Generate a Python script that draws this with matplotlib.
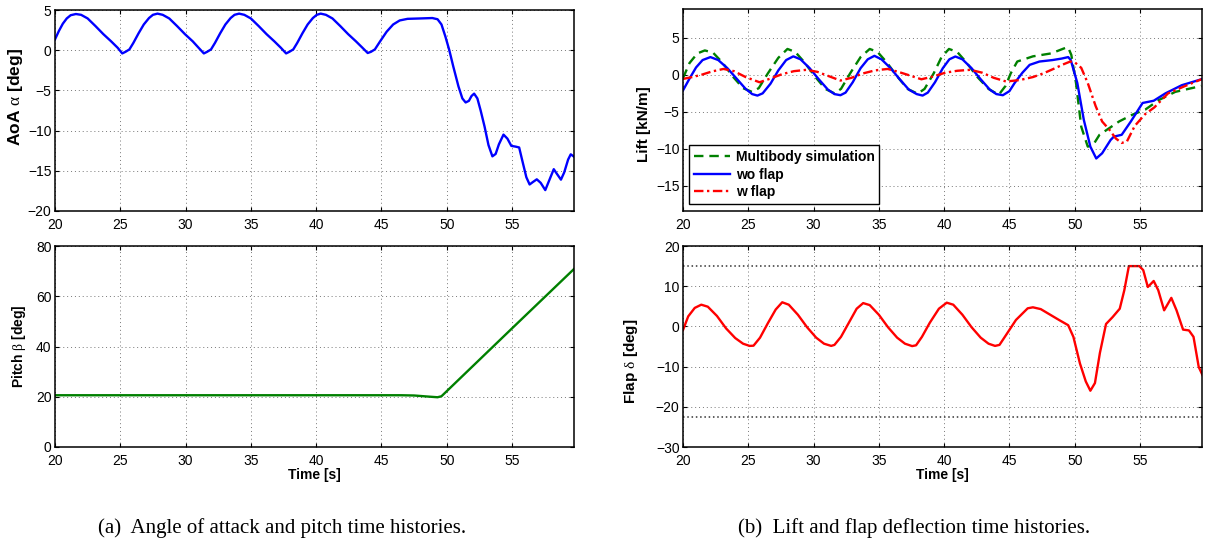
import matplotlib
matplotlib.use("Agg")
import matplotlib.pyplot as plt

plt.rcParams["font.family"] = ["Liberation Sans", "DejaVu Sans"]
plt.rcParams["mathtext.fontset"] = "custom"
plt.rcParams["mathtext.rm"] = "Liberation Serif"
plt.rcParams["mathtext.default"] = "rm"

# ---- angle of attack (top left)
aoa_t = [20.0, 20.3, 20.6, 20.9, 21.2, 21.6, 22.0, 22.5, 23.1, 23.7, 24.3, 24.8, 25.15, 25.4, 25.7,
         26.0, 26.4, 26.8, 27.2, 27.5, 27.85,
         28.25, 28.75, 29.35, 29.95, 30.55, 31.0, 31.4, 31.65, 31.95, 32.25, 32.65, 33.05, 33.45, 33.75, 34.1,
         34.5, 35.0, 35.6, 36.2, 36.8, 37.3, 37.7, 37.95, 38.25, 38.55, 38.95, 39.35, 39.75, 40.05, 40.35,
         40.75, 41.25, 41.85, 42.45, 43.05, 43.55, 43.95, 44.2, 44.5, 44.9, 45.4, 45.9, 46.4, 47.0, 48.0,
         48.9, 49.3, 49.6, 49.9, 50.2, 50.5, 50.9, 51.2, 51.45, 51.7, 51.9, 52.1, 52.35, 52.6, 52.9, 53.2,
         53.5, 53.75, 54.0, 54.35, 54.65, 54.95, 55.3, 55.55, 55.8, 56.1, 56.35, 56.6, 56.9, 57.2, 57.55,
         57.85, 58.2, 58.45, 58.75, 59.0, 59.3, 59.5, 59.8]
aoa = [1.35, 2.4, 3.3, 3.95, 4.35, 4.5, 4.4, 3.95, 3.0, 2.0, 1.1, 0.3, -0.4, -0.2, 0.1,
       0.9, 2.1, 3.2, 4.0, 4.4, 4.55,
       4.4, 3.95, 3.0, 2.0, 1.1, 0.3, -0.4, -0.2, 0.1, 0.9, 2.1, 3.2, 4.0, 4.4, 4.55,
       4.4, 3.95, 3.0, 2.0, 1.1, 0.3, -0.4, -0.2, 0.1, 0.9, 2.1, 3.2, 4.0, 4.4, 4.55,
       4.4, 3.95, 3.0, 2.0, 1.1, 0.3, -0.35, -0.2, 0.1, 1.1, 2.3, 3.2, 3.7, 3.9, 3.95,
       4.0, 3.85, 3.2, 1.7, 0.0, -2.0, -4.5, -6.0, -6.5, -6.3, -5.7, -5.4, -6.0, -7.5, -9.5, -11.8,
       -13.2, -12.9, -11.7, -10.5, -11.0, -11.9, -12.0, -12.1, -13.8, -15.8, -16.7, -16.4, -16.06, -16.5, -17.4,
       -16.2, -14.8, -15.4, -16.1, -15.2, -13.6, -12.95, -13.3]

# ---- pitch (bottom left)
pitch_t = [20.0, 30.0, 40.0, 46.5, 47.5, 48.5, 49.3, 49.6, 55.0, 59.8]
pitch = [20.6, 20.6, 20.6, 20.6, 20.5, 20.1, 19.8, 20.2, 47.2, 71.1]

# ---- lift (top right)
wo_t = [20.0, 20.5, 21.0, 21.5, 22.1, 22.7, 23.4, 24.1, 24.8, 25.3, 25.7, 26.1, 26.7, 27.3, 27.9,
        28.45, 29.0, 29.7, 30.4, 31.1, 31.6, 32.06, 32.45, 33.0, 33.6, 34.15, 34.66,
        35.2, 35.9, 36.6, 37.3, 37.9, 38.35, 38.75, 39.3, 39.9, 40.4, 40.86,
        41.4, 42.1, 42.8, 43.5, 44.0, 44.5, 45.0, 45.4, 46.0, 46.55, 47.3, 48.3, 49.0, 49.5, 49.7,
        50.2, 50.7, 51.2, 51.65, 52.1, 52.75, 53.0, 53.6, 54.3, 55.2, 56.05, 56.95, 58.2, 59.7]
wo = [-2.1, -0.5, 1.0, 2.0, 2.4, 2.0, 0.9, -0.5, -1.9, -2.6, -2.8, -2.5, -1.2, 0.6, 2.0,
      2.5, 2.1, 0.9, -0.6, -2.0, -2.6, -2.75, -2.4, -1.0, 0.9, 2.1, 2.57,
      2.1, 0.9, -0.6, -2.0, -2.6, -2.8, -2.4, -1.0, 0.9, 2.1, 2.48,
      2.1, 0.9, -0.6, -2.0, -2.6, -2.75, -2.2, -1.1, 0.3, 1.35, 1.8, 2.0, 2.2, 2.4, 2.0,
      -1.1, -6.1, -9.7, -11.3, -10.6, -8.8, -8.35, -8.1, -6.3, -3.8, -3.5, -2.5, -1.4, -0.6]

mb_t = [20.0, 20.5, 21.1, 21.67, 22.3, 23.0, 23.8, 24.6, 25.28, 25.8, 26.5, 27.3, 28.0,
        28.6, 29.3, 30.1, 30.9, 31.6, 32.1, 32.8, 33.6, 34.3,
        34.9, 35.6, 36.4, 37.2, 37.97, 38.5, 39.2, 39.8, 40.37,
        41.0, 41.7, 42.5, 43.4, 44.18, 44.7, 45.1, 45.6, 46.8, 48.2, 49.37, 49.5, 49.74,
        50.1, 50.5, 51.0, 51.4, 51.9, 52.65, 53.4, 54.4, 55.4, 56.45, 57.7, 59.7]
mb = [-0.45, 1.6, 2.9, 3.3, 3.0, 1.7, -0.2, -1.8, -2.3, -1.8, 0.2, 2.3, 3.5,
      3.1, 1.7, -0.2, -1.9, -2.5, -1.9, 0.2, 2.4, 3.5,
      3.1, 1.7, -0.2, -1.9, -2.55, -1.9, 0.2, 2.4, 3.5,
      3.1, 1.7, -0.2, -1.9, -2.7, -1.5, 0.2, 1.8, 2.5, 2.9, 3.7, 3.7, 2.7,
      -1.1, -7.0, -9.7, -9.5, -8.1, -7.2, -6.3, -5.4, -4.7, -3.4, -2.3, -1.5]

wf_t = [20.0, 20.7, 21.4, 22.2, 23.1, 23.9, 24.8, 25.86, 26.7, 27.6, 28.5, 29.46,
        30.3, 31.2, 32.06, 32.9, 33.8, 34.7, 35.67, 36.5, 37.4, 38.26, 39.2, 40.1, 41.0, 42.0,
        42.9, 43.8, 44.75, 45.8, 46.8, 47.6, 48.5, 49.1, 49.66, 50.0, 50.5, 51.0, 51.6, 52.1,
        52.65, 53.15, 53.6, 54.0, 54.6, 55.4, 56.1, 57.15, 58.4, 59.7]
wf = [-0.55, -0.3, 0.0, 0.45, 0.8, 0.5, -0.3, -1.0, -0.5, 0.1, 0.5, 0.68,
      0.4, -0.2, -0.77, -0.4, 0.2, 0.6, 0.8, 0.4, -0.1, -0.6, -0.2, 0.3, 0.55, 0.68,
      0.3, -0.4, -0.9, -0.7, -0.3, 0.2, 0.9, 1.4, 1.8, 1.7, 0.95, -1.1, -4.2, -6.3,
      -7.4, -8.6, -9.2, -9.0, -6.9, -5.3, -4.4, -2.5, -1.55, -0.6]

# ---- flap deflection (bottom right)
flap_t = [20.0, 20.4, 20.9, 21.4, 21.9, 22.6, 23.3, 24.0, 24.6, 25.1, 25.4, 25.9, 26.5, 27.1, 27.6,
          28.1, 28.8, 29.5, 30.2, 30.8, 31.35, 31.6, 32.1, 32.7, 33.3, 33.8,
          34.3, 35.0, 35.7, 36.4, 37.0, 37.55, 37.85, 38.3, 38.9, 39.6, 40.2,
          40.7, 41.4, 42.1, 42.8, 43.4, 43.9, 44.24, 44.75, 45.5, 46.4, 46.8, 47.4, 48.8, 49.5,
          49.9, 50.4, 50.85, 51.2, 51.55, 51.93, 52.4, 52.9, 53.45, 53.8, 54.15, 54.95, 55.25, 55.6,
          56.05, 56.4, 56.85, 57.4, 57.8, 58.3, 58.75, 59.1, 59.5, 59.8]
flap = [-0.9, 2.5, 4.6, 5.4, 4.9, 2.6, -0.5, -2.9, -4.3, -4.85, -4.8, -2.8, 0.8, 4.2, 6.0,
        5.4, 2.9, -0.2, -2.8, -4.3, -4.85, -4.6, -2.6, 0.9, 4.4, 5.8,
        5.3, 2.9, -0.2, -2.8, -4.3, -4.9, -4.7, -2.6, 0.9, 4.4, 5.9,
        5.4, 2.9, -0.2, -2.8, -4.3, -4.85, -4.6, -2.1, 1.6, 4.5, 4.75, 4.3, 1.6, 0.3,
        -2.6, -9.2, -13.7, -16.0, -14.1, -6.6, 0.6, 2.3, 4.4, 9.0, 15.0, 15.0, 14.0, 9.8,
        11.3, 9.0, 4.0, 7.1, 4.0, -0.8, -1.0, -2.6, -10.1, -12.2]
flap_limits = [15.0, -22.5]

xticks = [20, 25, 30, 35, 40, 45, 50, 55]

W, H = 1209, 541
fig = plt.figure(figsize=(W / 100, H / 100), dpi=100)


def make_ax(x0, y0, x1, y1):
    ax = fig.add_axes([x0 / W, 1 - y1 / H, (x1 - x0) / W, (y1 - y0) / H])
    ax.set_xlim(20, 59.75)
    ax.set_xticks(xticks)
    ax.grid(True, linestyle=(0, (1, 3)), color="#777777", linewidth=0.7)
    ax.tick_params(direction="in", top=True, right=True, length=3, labelsize=10,
                   width=0.8)
    ax.tick_params(axis="x", pad=4.8)
    ax.tick_params(axis="y", pad=2.5)
    for s in ax.spines.values():
        s.set_linewidth(1.1)
    return ax


def ylab(ax, text, size, x_px, y_frac):
    ax.set_ylabel(text, fontsize=size, fontweight="bold")
    ax.yaxis.set_label_coords(x_px / 519, y_frac)


ax1 = make_ax(55, 10, 574, 211)
ax1.plot(aoa_t, aoa, color="#0000ff", lw=1.7)
ax1.set_ylim(-20, 5)
ax1.set_yticks([-20, -15, -10, -5, 0, 5])
ylab(ax1, r"AoA $\alpha$ [deg]", 12.5, -30, 0.565)

ax2 = make_ax(55, 246, 574, 447)
ax2.plot(pitch_t, pitch, color="#008000", lw=1.7)
ax2.set_ylim(0, 80)
ax2.set_yticks([0, 20, 40, 60, 80])
ylab(ax2, r"Pitch $\beta$ [deg]", 10, -27, 0.5)
ax2.set_xlabel("Time [s]", fontsize=10, fontweight="bold")
ax2.xaxis.set_label_coords(0.5, -0.104)

ax3 = make_ax(683, 9, 1202, 211)
ax3.plot(mb_t, mb, color="#008000", lw=1.7, ls=(0, (4, 2.5)), label="Multibody simulation")
ax3.plot(wo_t, wo, color="#0000ff", lw=1.7, label="wo flap")
ax3.plot(wf_t, wf, color="#ff0000", lw=1.7, ls=(0, (4, 1.5, 1, 1.5)), label="w flap")
ax3.set_ylim(-18.4, 8.9)
ax3.set_yticks([-15, -10, -5, 0, 5])
ylab(ax3, "Lift [kN/m]", 11, -32, 0.43)
leg = ax3.legend(loc="lower left", bbox_to_anchor=(0.012, 0.035), borderaxespad=0,
                 prop={"size": 10, "weight": "bold"}, fancybox=False, framealpha=1,
                 edgecolor="black", handlelength=2.6, labelspacing=0.25,
                 borderpad=0.35, handletextpad=0.4)
leg.get_frame().set_linewidth(1.0)

ax4 = make_ax(683, 246, 1202, 447)
ax4.plot(flap_t, flap, color="#ff0000", lw=1.7)
for lim in flap_limits:
    ax4.axhline(lim, color="#333333", ls=(0, (1, 1.8)), lw=1.1)
ax4.set_ylim(-30, 20)
ax4.set_yticks([-30, -20, -10, 0, 10, 20])
ylab(ax4, r"Flap $\delta$ [deg]", 11, -43, 0.425)
ax4.set_xlabel("Time [s]", fontsize=10, fontweight="bold")
ax4.xaxis.set_label_coords(0.5, -0.104)

fig.text(282 / W, 1 - 533 / H, "(a)  Angle of attack and pitch time histories.",
         ha="center", va="baseline", fontsize=15, family="Liberation Serif")
fig.text(914 / W, 1 - 533 / H, "(b)  Lift and flap deflection time histories.",
         ha="center", va="baseline", fontsize=15, family="Liberation Serif")

fig.savefig("out.png", dpi=100)
